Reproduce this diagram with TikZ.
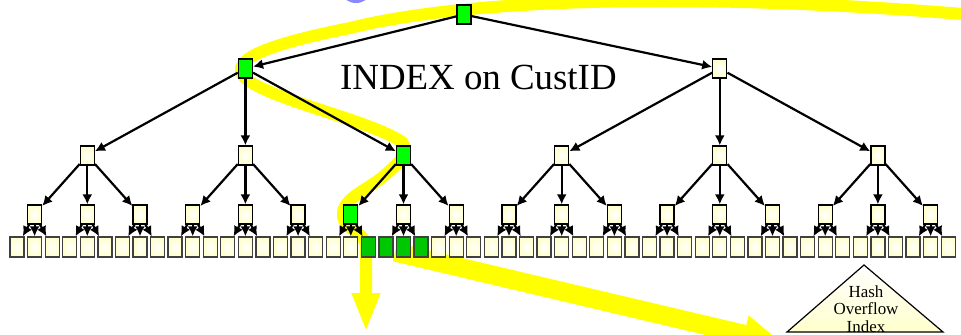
\documentclass[tikz,border=0pt]{standalone}
\usepackage{fontspec}
\setmainfont{Liberation Serif}
\usetikzlibrary{arrows.meta,trees}

\definecolor{cream}{RGB}{255,255,205}
\definecolor{pathgreen}{RGB}{0,255,0}
\definecolor{leafgreen}{RGB}{0,200,0}
\definecolor{hilite}{RGB}{255,255,0}
\definecolor{lilac}{RGB}{135,135,255}

\begin{document}
\begin{tikzpicture}[x=1bp,y=-1bp,
        level 1/.style={grow via three points={one child at (18.6,54) and two children at (-218.6,54) and (255.8,54)}},
        level 2/.style={grow via three points={one child at (0,87) and two children at (-79.05,87) and (79.05,87)}},
        level 3/.style={grow via three points={one child at (0,59) and two children at (-26.35,59) and (26.35,59)}},
        level 4/.style={grow via three points={one child at (0,32.5) and two children at (-8.785,32.5) and (8.785,32.5)}},
        box/.style={draw,line width=1.3bp,minimum width=14bp,minimum height=19bp,inner sep=0pt,
            inner color=white,outer color=cream},
        leaf/.style={minimum height=20bp,draw=black!75},
        hit/.style={inner color=pathgreen,outer color=pathgreen},
        lowhit/.style={inner color=leafgreen,outer color=leafgreen},
        on/1/.style={hit},on/13/.style={hit},on/131/.style={hit},
        on/1313/.style={lowhit},on/1321/.style={lowhit},on/1322/.style={lowhit},on/1323/.style={lowhit},
        pick/.code={\pgfkeysifdefined{/tikz/on/#1/.@cmd}{\pgfkeysalso{/tikz/on/#1}}{}},
        edge from parent/.style={draw,line width=2.2bp,-{Latex[length=10bp,width=10bp]}},
        trail/.style={draw=hilite,line width=12bp}]

    \useasboundingbox (0,0) rectangle (961,334);

    % search path, drawn first so it stays under the tree
    \fill[lilac] (356,-8) ellipse [x radius=14bp,y radius=11bp];
    \draw[trail,-{Triangle[length=39bp,width=26bp]}] (975,15) .. controls (700,-8) and (470,-2) .. (350,28)
        .. controls (280,42) and (225,58) .. (245,78)
        .. controls (270,100) and (370,120) .. (402,142)
        .. controls (410,152) and (402,160) .. (385,175)
        .. controls (368,190) and (342,198) .. (343,215)
        .. controls (344,232) and (366,230) .. (366,248) -- (366,332);
    \draw[trail,line width=19bp,-{Triangle[length=40bp,width=36bp]}] (395,252) -- (783,343.5);

    \node[box,hit] (root) at (464,14.5) {}
    child foreach \pa in {1,2} {node[box,pick=\pa] {}
        child foreach \pb in {1,2,3} {node[box,pick=\pa\pb] {}
            child foreach \pc in {1,2,3} {node[box,pick=\pa\pb\pc] {}
                child foreach \pd in {1,2,3} {node[box,leaf,pick=\pa\pb\pc\pd] {}}}}};

    \node[font=\fontsize{37}{37}\selectfont,anchor=base west,inner sep=0pt] (title) at (340,89) {INDEX on CustID};

    \draw[line width=1.2bp,top color=white,bottom color=cream] (787,332) -- (864,265) -- (943,332) -- cycle;
    \node[align=center,font=\fontsize{17}{17.5}\selectfont,inner sep=0pt] (hashidx) at (866,309) {Hash\\Overflow\\Index};
\end{tikzpicture}
\end{document}
